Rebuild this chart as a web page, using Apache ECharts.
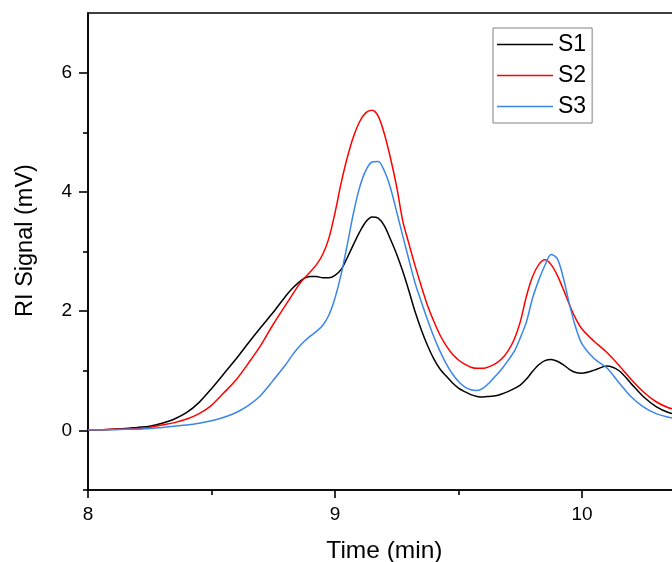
<!DOCTYPE html>
<html>
<head>
<meta charset="utf-8">
<script src="https://cdn.jsdelivr.net/npm/echarts@6/dist/echarts.min.js"></script>
<style>
html,body{margin:0;padding:0;background:#fff;}
#chart{width:672px;height:562px;}
</style>
</head>
<body>
<div id="chart"></div>
<script>
// ---- data ----
const times = [8.00, 8.05, 8.10, 8.15, 8.20, 8.25, 8.30, 8.35, 8.40, 8.45,
  8.50, 8.55, 8.60, 8.65, 8.70, 8.75, 8.80,
  8.825, 8.85, 8.875, 8.90, 8.925, 8.95, 8.975, 9.00,
  9.025, 9.05, 9.075, 9.10, 9.125, 9.15, 9.175, 9.20,
  9.225, 9.25, 9.275, 9.30, 9.325, 9.35, 9.375, 9.40,
  9.425, 9.45, 9.475, 9.50, 9.525, 9.55, 9.575, 9.60,
  9.625, 9.65, 9.675, 9.70, 9.725, 9.75, 9.775, 9.80,
  9.825, 9.85, 9.875, 9.90, 9.925, 9.95, 9.975, 10.00,
  10.05, 10.10, 10.15, 10.20, 10.25, 10.30, 10.35, 10.40];

const s1 = [0.01, 0.01, 0.02, 0.03, 0.05, 0.07, 0.12, 0.19, 0.30, 0.47,
  0.70, 0.95, 1.20, 1.47, 1.73, 1.98, 2.25,
  2.37, 2.47, 2.55, 2.58, 2.58, 2.56, 2.56, 2.60,
  2.70, 2.90, 3.12, 3.33, 3.50, 3.58, 3.56, 3.43,
  3.20, 2.95, 2.66, 2.33, 1.98, 1.68, 1.42, 1.20,
  1.03, 0.91, 0.80, 0.71, 0.65, 0.60, 0.57, 0.56,
  0.57, 0.58, 0.61, 0.65, 0.70, 0.76, 0.86, 0.99,
  1.10, 1.17, 1.19, 1.16, 1.10, 1.02, 0.97, 0.96,
  1.01, 1.08, 1.00, 0.78, 0.56, 0.40, 0.30, 0.25];

const s2 = [0.01, 0.01, 0.02, 0.02, 0.03, 0.05, 0.09, 0.13, 0.19, 0.28,
  0.42, 0.63, 0.85, 1.13, 1.43, 1.78, 2.10,
  2.26, 2.42, 2.55, 2.66, 2.78, 2.95, 3.22, 3.65,
  4.15, 4.58, 4.93, 5.18, 5.33, 5.37, 5.27, 4.97,
  4.56, 4.08, 3.50, 3.12, 2.75, 2.41, 2.09, 1.83,
  1.60, 1.42, 1.28, 1.18, 1.11, 1.06, 1.04, 1.04,
  1.07, 1.12, 1.20, 1.33, 1.52, 1.82, 2.25, 2.58,
  2.78, 2.86, 2.78, 2.60, 2.36, 2.10, 1.87, 1.70,
  1.49, 1.31, 1.09, 0.85, 0.64, 0.48, 0.38, 0.32];

const s3 = [0.01, 0.01, 0.01, 0.02, 0.02, 0.03, 0.05, 0.07, 0.09, 0.12,
  0.16, 0.22, 0.30, 0.42, 0.59, 0.84, 1.10,
  1.25, 1.38, 1.49, 1.58, 1.66, 1.76, 1.93, 2.22,
  2.62, 3.12, 3.65, 4.08, 4.36, 4.50, 4.51, 4.35,
  4.06, 3.66, 3.25, 2.85, 2.46, 2.15, 1.85, 1.57,
  1.33, 1.12, 0.95, 0.82, 0.73, 0.68, 0.67, 0.71,
  0.80, 0.91, 1.03, 1.17, 1.32, 1.55, 1.82, 2.22,
  2.52, 2.77, 2.95, 2.88, 2.55, 2.10, 1.72, 1.45,
  1.20, 1.05, 0.80, 0.56, 0.39, 0.28, 0.22, 0.19];

const seriesNames = ['S1', 'S2', 'S3'];
const xMajorTicks = [8, 9, 10];
const xMinorTicks = [8.5, 9.5];
const yMajorTicks = [0, 2, 4, 6];
const yMinorTicks = [-1, 1, 3, 5];
const xName = 'Time (min)';
const yName = 'RI Signal (mV)';

// ---- chart ----
const FONT = 'Liberation Sans, Arial, Helvetica, sans-serif';
const colors = ['#000000', '#ff0000', '#3a86e8'];
const allSeries = [s1, s2, s3];

const chart = echarts.init(document.getElementById('chart'), null, {renderer: 'canvas'});

const gridW = (10.4 - 8) * 247;
const option = {
  animation: false,
  backgroundColor: '#ffffff',
  grid: {
    left: 88, top: 13, width: gridW, height: 477,
    containLabel: false, outerBoundsMode: 'none',
    show: true, borderColor: '#000', borderWidth: 1.6, backgroundColor: 'transparent'
  },
  legend: {
    left: 493, top: 28,
    orient: 'vertical',
    data: seriesNames,
    icon: 'rect',
    itemWidth: 56, itemHeight: 1.6, itemGap: 6,
    padding: [4, 6, 4, 4],
    borderColor: '#808080', borderWidth: 1,
    textStyle: {fontFamily: FONT, fontSize: 23, color: '#000', lineHeight: 25}
  },
  xAxis: [{
    type: 'value', min: 8, max: 10.4,
    name: xName, nameLocation: 'middle', nameGap: 49,
    nameTextStyle: {fontFamily: FONT, fontSize: 24.5, color: '#000'},
    axisLine: {show: true, onZero: false, lineStyle: {color: '#000', width: 1.6}},
    axisTick: {show: true, inside: false, length: 8, customValues: xMajorTicks, lineStyle: {color: '#000', width: 1.6}},
    axisLabel: {customValues: xMajorTicks, margin: 15, fontFamily: FONT, fontSize: 19, color: '#000'},
    splitLine: {show: false}
  }, {
    type: 'value', min: 8, max: 10.4, position: 'bottom',
    axisLine: {show: false, onZero: false},
    axisTick: {show: true, length: 5, customValues: xMinorTicks, lineStyle: {color: '#000', width: 1.6}},
    axisLabel: {show: false},
    splitLine: {show: false}
  }],
  yAxis: [{
    type: 'value', min: -1, max: 7,
    name: yName, nameLocation: 'middle', nameGap: 50,
    nameTextStyle: {fontFamily: FONT, fontSize: 23.5, color: '#000', padding: [0, 0, 0, 22]},
    axisLine: {show: true, onZero: false, lineStyle: {color: '#000', width: 1.6}},
    axisTick: {show: true, length: 9, customValues: yMajorTicks, lineStyle: {color: '#000', width: 1.6}},
    axisLabel: {customValues: yMajorTicks, margin: 16, fontFamily: FONT, fontSize: 19, color: '#000'},
    splitLine: {show: false}
  }, {
    type: 'value', min: -1, max: 7, position: 'left',
    axisLine: {show: false, onZero: false},
    axisTick: {show: true, length: 5, customValues: yMinorTicks, lineStyle: {color: '#000', width: 1.6}},
    axisLabel: {show: false},
    splitLine: {show: false}
  }],
  series: seriesNames.map((name, k) => ({
    name: name,
    type: 'line',
    xAxisIndex: 0, yAxisIndex: 0,
    smooth: 0.3,
    showSymbol: false,
    symbol: 'none',
    color: colors[k],
    lineStyle: {color: colors[k], width: 1.5},
    data: times.map((t, i) => [t, allSeries[k][i]])
  }))
};
chart.setOption(option);
</script>
</body>
</html>
